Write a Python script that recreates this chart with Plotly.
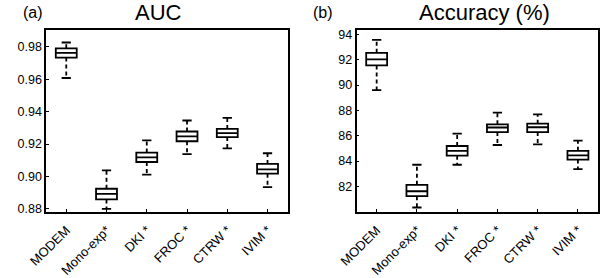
import plotly.graph_objects as go

categories = ["MODEM", "Mono-exp*", "DKI *", "FROC *", "CTRW *", "IVIM *"]

# AUC panel
auc_lower = [0.9607, 0.8800, 0.9011, 0.9137, 0.9173, 0.8934]
auc_q1 = [0.9733, 0.8858, 0.9089, 0.9217, 0.9243, 0.9017]
auc_median = [0.9762, 0.8892, 0.9117, 0.9247, 0.9267, 0.9044]
auc_q3 = [0.9790, 0.8924, 0.9147, 0.9277, 0.9293, 0.9077]
auc_upper = [0.9826, 0.9038, 0.9223, 0.9345, 0.9361, 0.9143]

# Accuracy panel
acc_lower = [89.60, 80.34, 83.71, 85.27, 85.32, 83.36]
acc_q1 = [91.55, 81.23, 84.43, 86.29, 86.29, 84.12]
acc_median = [92.03, 81.62, 84.81, 86.65, 86.67, 84.45]
acc_q3 = [92.54, 82.13, 85.19, 86.90, 86.95, 84.81]
acc_upper = [93.56, 83.71, 86.16, 87.82, 87.69, 85.62]

auc_ticks = [0.88, 0.90, 0.92, 0.94, 0.96, 0.98]
acc_ticks = [82, 84, 86, 88, 90, 92, 94]

FONT = "Liberation Sans, Arial, sans-serif"
LW = 1.8
BOX_W = 0.52
CAP_HALF = 0.115

fig = go.Figure()
positions = list(range(len(categories)))


def add_panel(xa, ya, lower, q1, med, q3, upper):
    fig.add_trace(go.Box(
        x=positions, q1=q1, median=med, q3=q3,
        lowerfence=q1, upperfence=q3, width=BOX_W,
        fillcolor="white", line=dict(color="black", width=LW),
        whiskerwidth=0, xaxis=xa, yaxis=ya, showlegend=False, hoverinfo="skip",
    ))
    wx, wy = [], []
    cx, cy = [], []
    for i in positions:
        wx += [i, i, None, i, i, None]
        wy += [q3[i], upper[i], None, q1[i], lower[i], None]
        cx += [i - CAP_HALF, i + CAP_HALF, None, i - CAP_HALF, i + CAP_HALF, None]
        cy += [upper[i], upper[i], None, lower[i], lower[i], None]
    fig.add_trace(go.Scatter(x=wx, y=wy, mode="lines",
                             line=dict(color="black", width=LW, dash="4px,3px"),
                             xaxis=xa, yaxis=ya, showlegend=False, hoverinfo="skip"))
    fig.add_trace(go.Scatter(x=cx, y=cy, mode="lines",
                             line=dict(color="black", width=LW),
                             xaxis=xa, yaxis=ya, showlegend=False, hoverinfo="skip"))


add_panel("x", "y", auc_lower, auc_q1, auc_median, auc_q3, auc_upper)
add_panel("x2", "y2", acc_lower, acc_q1, acc_median, acc_q3, acc_upper)

W, H = 600, 278
ydom = [(H - 216) / H, (H - 29) / H]

xcommon = dict(
    range=[-0.5, 5.5], tickvals=positions, ticktext=categories, tickangle=-45,
    ticks="inside", ticklen=3, tickwidth=1, tickcolor="black",
    showline=True, linecolor="black", linewidth=1.5, mirror=True,
    showgrid=False, zeroline=False, ticklabelstandoff=4,
    tickfont=dict(family=FONT, size=13, color="black"),
)
ycommon = dict(
    ticks="inside", ticklen=3, tickwidth=1, tickcolor="black",
    showline=True, linecolor="black", linewidth=1.5, mirror=True,
    showgrid=False, zeroline=False,
    tickfont=dict(family=FONT, size=12.5, color="black"),
)

fig.update_layout(
    width=W, height=H,
    margin=dict(l=0, r=0, t=0, b=0),
    paper_bgcolor="white", plot_bgcolor="white",
    xaxis=dict(domain=[29 / W, 278 / W], anchor="y", **xcommon),
    xaxis2=dict(domain=[349 / W, 598 / W], anchor="y2", **xcommon),
    yaxis=dict(domain=ydom, anchor="x", range=[0.8782, 0.9902],
               tickvals=auc_ticks, ticktext=[f"{t:.2f}" for t in auc_ticks], **ycommon),
    yaxis2=dict(domain=ydom, anchor="x2", range=[80.0, 94.33],
                tickvals=acc_ticks, ticktext=[str(t) for t in acc_ticks], **ycommon),
    annotations=[
        dict(text="(a)", x=3 / W, y=1 - 11 / H, xref="paper", yref="paper",
             xanchor="left", yanchor="middle", showarrow=False,
             font=dict(family=FONT, size=16, color="black")),
        dict(text="AUC", x=145 / W, y=1 - 11 / H, xref="paper", yref="paper",
             xanchor="center", yanchor="middle", showarrow=False,
             font=dict(family=FONT, size=22, color="black")),
        dict(text="(b)", x=302 / W, y=1 - 11 / H, xref="paper", yref="paper",
             xanchor="left", yanchor="middle", showarrow=False,
             font=dict(family=FONT, size=16, color="black")),
        dict(text="Accuracy (%)", x=481 / W, y=1 - 11 / H, xref="paper", yref="paper",
             xanchor="center", yanchor="middle", showarrow=False,
             font=dict(family=FONT, size=22, color="black")),
    ],
)

fig.write_html("out.html")
